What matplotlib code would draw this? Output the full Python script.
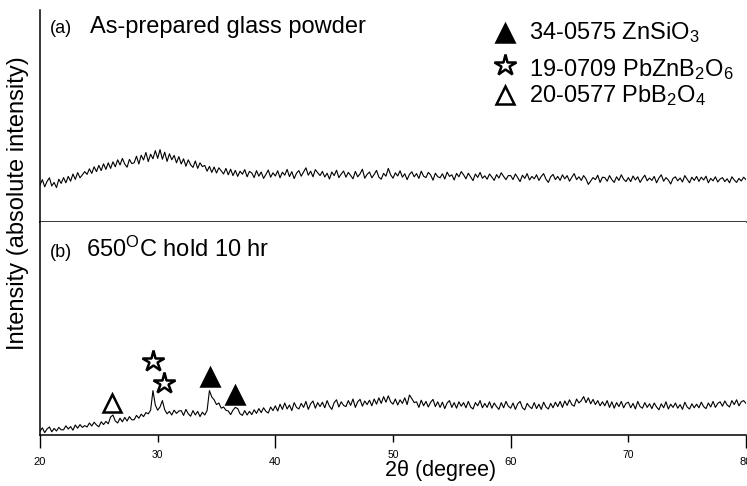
import numpy as np
import matplotlib
matplotlib.use("Agg")
import matplotlib.pyplot as plt

plt.rcParams['font.family'] = ['Liberation Sans', 'DejaVu Sans']
plt.rcParams['mathtext.fontset'] = 'custom'
plt.rcParams['mathtext.rm'] = 'Liberation Sans'
plt.rcParams['mathtext.it'] = 'Liberation Sans:italic'

# 2-theta grid: 20.0 .. 80.0 in 0.2 degree steps
two_theta_start, two_theta_step = 20.0, 0.2

# (a) as-prepared glass powder, counts (arbitrary)
glass_counts = [
    185, 212, 176, 203, 221, 180, 198, 172, 214, 193,
    222, 196, 228, 204, 240, 213, 247, 221, 236, 252,
    238, 266, 243, 276, 252, 283, 257, 291, 263, 296,
    268, 301, 276, 311, 285, 318, 290, 274, 313, 292,
    296, 329, 290, 334, 310, 348, 302, 339, 316, 357,
    318, 362, 314, 349, 303, 341, 311, 333, 296, 327,
    290, 316, 279, 311, 286, 273, 305, 268, 296, 277,
    283, 254, 278, 248, 275, 245, 271, 256, 240, 268,
    236, 264, 232, 258, 228, 254, 239, 262, 226, 253,
    245, 222, 257, 229, 250, 218, 238, 260, 224, 246,
    230, 256, 221, 249, 234, 263, 227, 252, 217, 244,
    257, 229, 250, 271, 234, 254, 226, 262, 246, 232,
    253, 225, 244, 215, 250, 232, 259, 222, 240, 255,
    224, 248, 233, 216, 253, 226, 241, 264, 219, 238,
    250, 221, 238, 258, 224, 214, 243, 229, 268, 236,
    219, 246, 230, 256, 224, 241, 212, 238, 251, 226,
    242, 218, 254, 229, 222, 248, 235, 209, 244, 227,
    221, 241, 215, 249, 228, 236, 210, 243, 226, 252,
    236, 216, 244, 226, 207, 240, 223, 248, 219, 231,
    214, 240, 225, 208, 237, 220, 246, 228, 212, 232,
    232, 212, 240, 222, 202, 234, 218, 242, 210, 228,
    216, 236, 208, 228, 242, 214, 198, 226, 238, 212,
    228, 208, 236, 216, 232, 204, 224, 242, 212, 226,
    208, 232, 216, 188, 205, 222, 212, 234, 198, 224,
    222, 204, 232, 212, 198, 226, 208, 236, 214, 202,
    222, 202, 230, 210, 226, 198, 218, 234, 206, 220,
    208, 228, 196, 220, 236, 204, 222, 210, 190, 218,
    226, 206, 220, 200, 232, 214, 196, 224, 208, 228,
    203, 224, 210, 229, 196, 218, 206, 226, 200, 215,
    222, 202, 216, 196, 226, 210, 198, 218, 205, 224,
    212,
]

# (b) 650 C hold 10 hr, counts (arbitrary)
annealed_counts = [
    18, 36, 12, 30, 40, 16, 33, 20, 38, 26,
    26, 46, 30, 42, 24, 50, 34, 52, 38, 47,
    40, 60, 45, 64, 50, 41, 66, 52, 68, 56,
    90, 100, 70, 60, 84, 66, 88, 70, 92, 76,
    76, 98, 84, 104, 92, 112, 106, 124, 222, 150,
    124, 140, 172, 126, 106, 118, 100, 124, 108, 120,
    122, 98, 128, 106, 94, 122, 100, 118, 92, 114,
    100, 122, 222, 190, 176, 152, 160, 134, 140, 124,
    120, 102, 124, 138, 132, 106, 98, 122, 100, 118,
    102, 126, 108, 132, 112, 136, 118, 110, 140, 122,
    146, 120, 154, 128, 160, 130, 150, 122, 162, 138,
    130, 158, 138, 168, 128, 156, 170, 134, 162, 142,
    164, 136, 172, 144, 128, 162, 176, 140, 166, 148,
    142, 172, 148, 180, 138, 166, 178, 144, 170, 152,
    174, 146, 180, 154, 186, 158, 192, 164, 196, 166,
    154, 180, 150, 176, 158, 186, 152, 200, 182, 162,
    166, 138, 174, 146, 168, 140, 164, 178, 142, 166,
    138, 164, 132, 160, 172, 138, 162, 134, 166, 144,
    162, 136, 168, 140, 130, 162, 146, 172, 136, 158,
    138, 166, 134, 160, 142, 128, 162, 136, 168, 144,
    134, 160, 128, 156, 168, 136, 126, 158, 142, 132,
    162, 132, 154, 128, 164, 140, 130, 158, 136, 164,
    142, 168, 138, 170, 148, 176, 152, 144, 180, 160,
    172, 192, 162, 186, 156, 178, 152, 172, 146, 166,
    146, 172, 138, 166, 134, 162, 142, 168, 136, 158,
    164, 136, 158, 130, 168, 142, 134, 162, 138, 156,
    132, 160, 140, 126, 156, 136, 166, 130, 154, 138,
    160, 134, 152, 128, 164, 140, 130, 156, 136, 154,
    136, 164, 142, 132, 160, 140, 168, 138, 158, 166,
    144, 170, 150, 140, 172, 152, 176, 146, 166, 172,
    158,
]

# peak identification marks in panel (b): position and marker height
peak_pos = [26.1, 29.6, 30.5, 34.45, 36.6]
peak_mark = [160, 370, 260, 290, 200]
peak_phase = ['PbB2O4', 'PbZnB2O6', 'PbZnB2O6', 'ZnSiO3', 'ZnSiO3']

phase_labels = {
    'ZnSiO3': r'34-0575 ZnSiO$_3$',
    'PbZnB2O6': r'19-0709 PbZnB$_2$O$_6$',
    'PbB2O4': r'20-0577 PbB$_2$O$_4$',
}
phase_style = {
    'ZnSiO3': dict(marker='^', mfc='black', mec='black'),
    'PbZnB2O6': dict(marker='*', mfc='white', mec='black'),
    'PbB2O4': dict(marker='^', mfc='white', mec='black'),
}

x_ticks = [20, 40, 60, 80]
x_ticks_minor = [30, 50, 70]

two_theta = two_theta_start + two_theta_step * np.arange(len(glass_counts))

fig = plt.figure(figsize=(7.47, 4.86), dpi=100)
left, width = 40 / 747, 706 / 747
ax_a = fig.add_axes([left, 264 / 486, width, 212 / 486])
ax_b = fig.add_axes([left, 51 / 486, width, 213 / 486], sharex=ax_a)

ax_a.plot(two_theta, glass_counts, color='black', lw=0.8)
ax_b.plot(two_theta, annealed_counts, color='black', lw=0.8)

ax_a.set_ylim(0, 1060)
ax_b.set_ylim(0, 1065)
ax_b.set_xlim(20, 80)

for ax in (ax_a, ax_b):
    ax.spines['top'].set_visible(False)
    ax.spines['right'].set_visible(False)
    ax.set_yticks([])
    for s in ('left', 'bottom'):
        ax.spines[s].set_linewidth(1.1)
        ax.spines[s].set_color('black')
ax_a.tick_params(axis='x', which='both', bottom=False, labelbottom=False)

ax_b.set_xticks(x_ticks, labels=[str(t) for t in x_ticks])
ax_b.set_xticks(x_ticks_minor, labels=[str(t) for t in x_ticks_minor], minor=True)
ax_b.tick_params(axis='x', which='major', length=9.5, width=1, pad=6.5, labelsize=8)
ax_b.tick_params(axis='x', which='minor', length=5, width=1, pad=5.5, labelsize=7.5)

# peak marks
for x, y, ph in zip(peak_pos, peak_mark, peak_phase):
    st = phase_style[ph]
    ms = 16 if st['marker'] == '*' else 13
    ax_b.plot([x], [y], ls='none', ms=ms, mew=1.8, clip_on=False, **st)

# panel titles
ax_a.text(0.014, 0.892, '(a)', transform=ax_a.transAxes, fontsize=13, va='baseline')
ax_a.text(0.071, 0.892, 'As-prepared glass powder', transform=ax_a.transAxes,
          fontsize=17, va='baseline')
ax_b.text(0.014, 0.836, '(b)', transform=ax_b.transAxes, fontsize=13, va='baseline')
ax_b.text(0.065, 0.836, r'650$^{\mathrm{O}}$C hold 10 hr', transform=ax_b.transAxes,
          fontsize=17, va='baseline')

# legend built by hand
legend_rows = [('ZnSiO3', 0.892, 0.863), ('PbZnB2O6', 0.741, 0.689), ('PbB2O4', 0.599, 0.566)]
for ph, ym, yt in legend_rows:
    st = phase_style[ph]
    ms = 16 if st['marker'] == '*' else 13
    ax_a.plot([0.659], [ym], transform=ax_a.transAxes, ls='none', ms=ms, mew=1.8,
              clip_on=False, **st)
    ax_a.text(0.693, yt, phase_labels[ph], transform=ax_a.transAxes, fontsize=17,
              va='baseline')

fig.text(18 / 747, 1 - 203 / 486, 'Intensity (absolute intensity)', rotation=90,
         fontsize=17, ha='center', va='center')
fig.text(441 / 747, 1 - 470 / 486, '2\u03b8 (degree)', fontsize=15.5, ha='center',
         va='center')

fig.savefig('out.png', dpi=100)
